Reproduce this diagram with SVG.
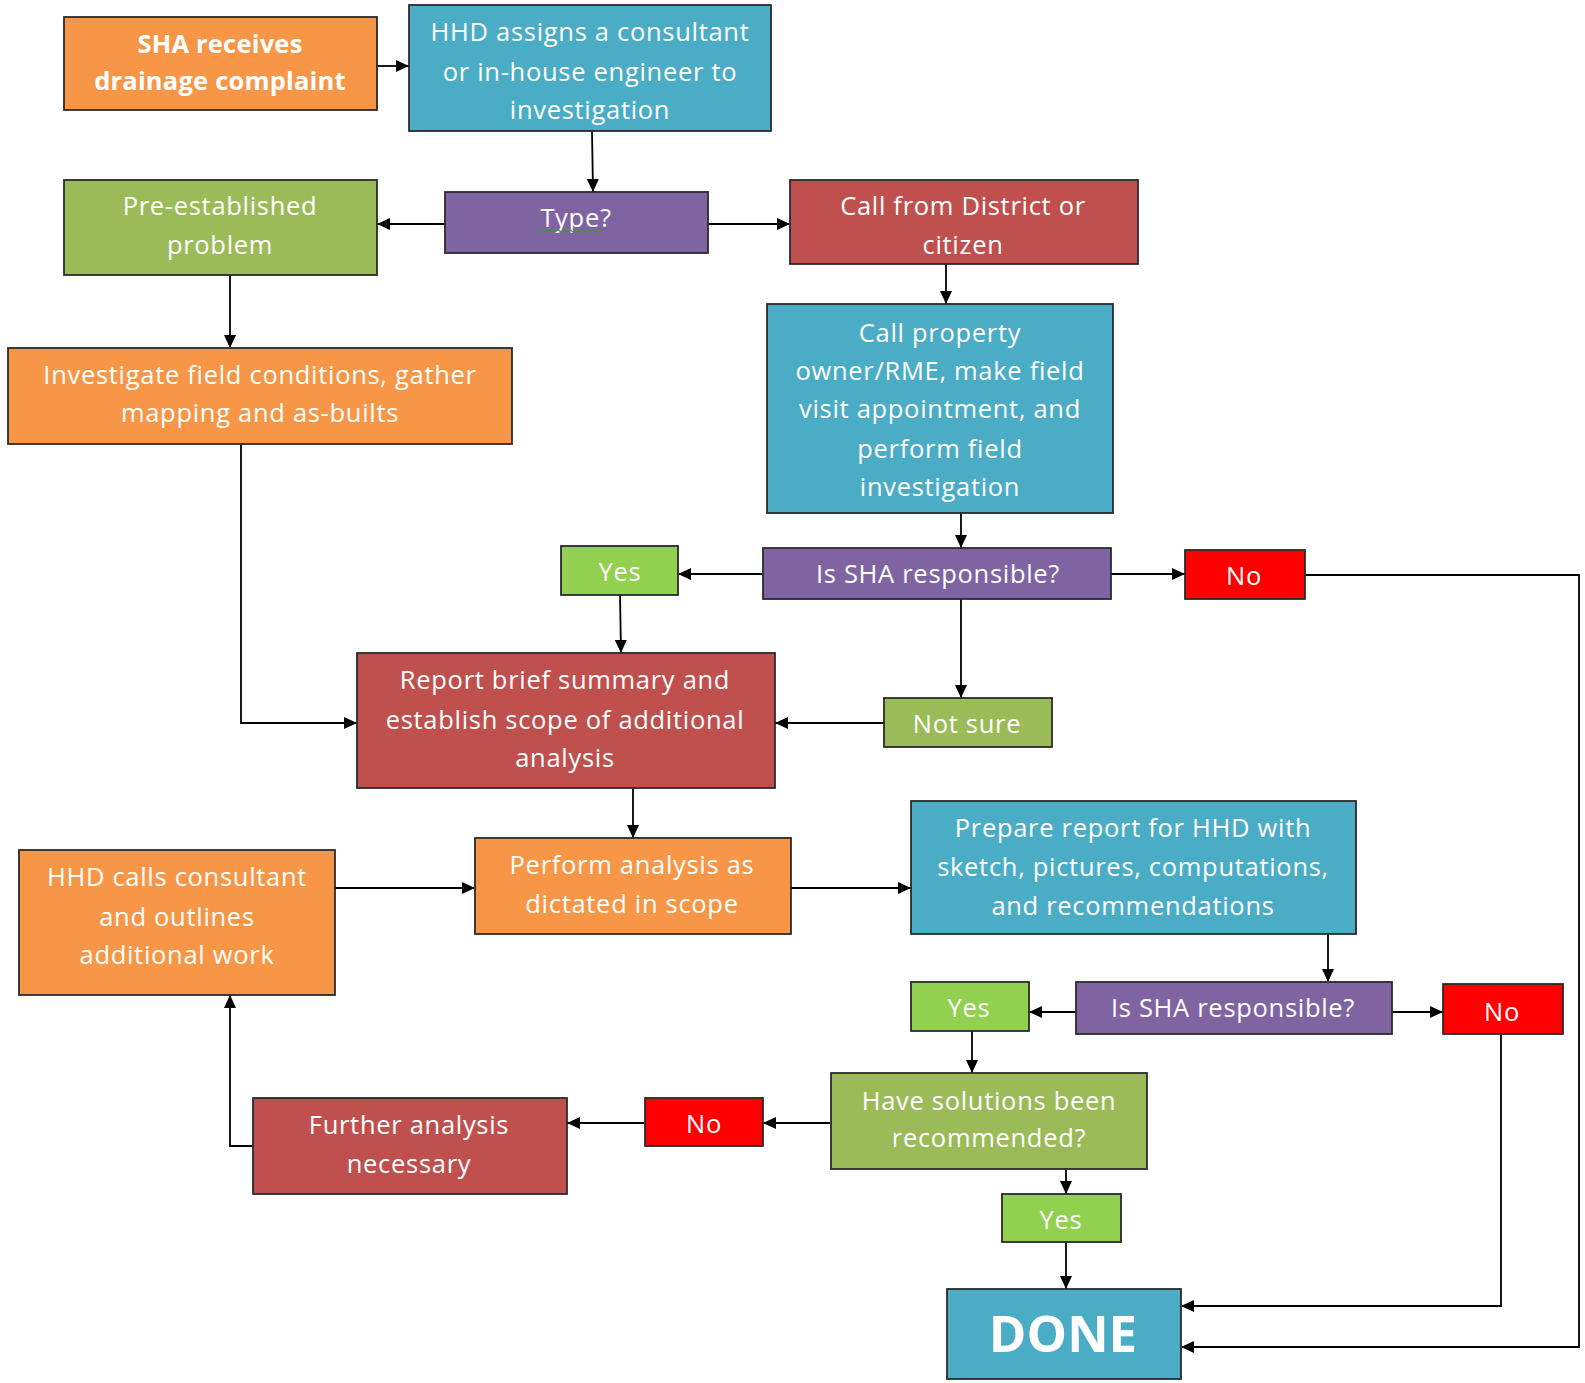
<svg xmlns="http://www.w3.org/2000/svg" width="1585" height="1383" viewBox="0 0 1585 1383">
<style>
.box{stroke:#2b2b2b;stroke-width:1.8}
.or{fill:#F79646}.bl{fill:#4BACC6}.pu{fill:#8064A2}.gr{fill:#9BBB59}.rd{fill:#C0504D}.lg{fill:#92D050}.br{fill:#FF0000}
text{font-family:"Open Sans","Noto Sans","DejaVu Sans",sans-serif;font-size:25.5px;letter-spacing:0.7px;fill:#FFFFFF;text-anchor:middle;dominant-baseline:central}
.b{font-weight:bold;letter-spacing:0.2px}
.done{font-size:51px;font-weight:bold;letter-spacing:0}
.c{fill:none;stroke:#000;stroke-width:1.8}
</style>
<defs>
<marker id="ah" markerUnits="userSpaceOnUse" markerWidth="14" markerHeight="14" refX="13" refY="7" orient="auto">
<path d="M0,1 L13,7 L0,13 Z" fill="#000"/>
</marker>
</defs>
<rect width="1585" height="1383" fill="#FFFFFF"/>
<g id="connectors">
<path class="c" marker-end="url(#ah)" d="M377,66 L409,66"/>
<path class="c" marker-end="url(#ah)" d="M592,131 L593,192"/>
<path class="c" marker-end="url(#ah)" d="M445,224 L377,224"/>
<path class="c" marker-end="url(#ah)" d="M708,224 L790,224"/>
<path class="c" marker-end="url(#ah)" d="M946,264 L946,304"/>
<path class="c" marker-end="url(#ah)" d="M230,275 L230,348"/>
<path class="c" marker-end="url(#ah)" d="M241,444 L241,723 L357,723"/>
<path class="c" marker-end="url(#ah)" d="M961,513 L961,548"/>
<path class="c" marker-end="url(#ah)" d="M763,574 L678,574"/>
<path class="c" marker-end="url(#ah)" d="M1111,574 L1185,574"/>
<path class="c" marker-end="url(#ah)" d="M961,599 L961,698"/>
<path class="c" marker-end="url(#ah)" d="M620,595 L621,653"/>
<path class="c" marker-end="url(#ah)" d="M884,723 L775,723"/>
<path class="c" marker-end="url(#ah)" d="M1305,575 L1579,575 L1579,1347 L1181,1347"/>
<path class="c" marker-end="url(#ah)" d="M633,788 L633,838"/>
<path class="c" marker-end="url(#ah)" d="M335,888 L475,888"/>
<path class="c" marker-end="url(#ah)" d="M791,888 L911,888"/>
<path class="c" marker-end="url(#ah)" d="M1328,934 L1328,982"/>
<path class="c" marker-end="url(#ah)" d="M1076,1012 L1029,1012"/>
<path class="c" marker-end="url(#ah)" d="M1392,1012 L1443,1012"/>
<path class="c" marker-end="url(#ah)" d="M972,1031 L972,1073"/>
<path class="c" marker-end="url(#ah)" d="M831,1123 L763,1123"/>
<path class="c" marker-end="url(#ah)" d="M645,1123 L567,1123"/>
<path class="c" marker-end="url(#ah)" d="M253,1146 L230,1146 L230,995"/>
<path class="c" marker-end="url(#ah)" d="M1066,1169 L1066,1194"/>
<path class="c" marker-end="url(#ah)" d="M1066,1242 L1066,1289"/>
<path class="c" marker-end="url(#ah)" d="M1501,1034 L1501,1306 L1181,1306"/>
</g>
<g id="n-sha-receives"><rect class="box or" x="64" y="17" width="313" height="93"/><text class="b" x="220" y="43">SHA receives</text><text class="b" x="220" y="80">drainage complaint</text></g>
<g id="n-hhd-assigns"><rect class="box bl" x="409" y="5" width="362" height="126"/><text x="590" y="31">HHD assigns a consultant</text><text x="590" y="71">or in-house engineer to</text><text x="590" y="109">investigation</text></g>
<g id="n-type"><rect class="box pu" x="445" y="192" width="263" height="61"/><text x="576" y="217">Type?</text><path d="M537,232 l3,-2.5 l3,2.5 l3,-2.5 l3,2.5 l3,-2.5 l3,2.5 l3,-2.5 l3,2.5 l3,-2.5 l3,2.5 l3,-2.5 l3,2.5 l3,-2.5 l3,2.5 l3,-2.5 l3,2.5 l3,-2.5 l3,2.5 l3,-2.5 l3,2.5 l3,-2.5 l3,2.5" fill="none" stroke="#3a9a3a" stroke-width="1.2"/></g>
<g id="n-pre-established"><rect class="box gr" x="64" y="180" width="313" height="95"/><text x="220" y="205">Pre-established</text><text x="220" y="244">problem</text></g>
<g id="n-call-district"><rect class="box rd" x="790" y="180" width="348" height="84"/><text x="963" y="205">Call from District or</text><text x="963" y="244">citizen</text></g>
<g id="n-investigate"><rect class="box or" x="8" y="348" width="504" height="96"/><text x="260" y="374">Investigate field conditions, gather</text><text x="260" y="412">mapping and as-builts</text></g>
<g id="n-call-property"><rect class="box bl" x="767" y="304" width="346" height="209"/><text x="940" y="332">Call property</text><text x="940" y="370">owner/RME, make field</text><text x="940" y="408">visit appointment, and</text><text x="940" y="448">perform field</text><text x="940" y="486">investigation</text></g>
<g id="n-yes1"><rect class="box lg" x="561" y="546" width="117" height="49"/><text x="620" y="571">Yes</text></g>
<g id="n-is-sha1"><rect class="box pu" x="763" y="548" width="348" height="51"/><text x="938" y="573">Is SHA responsible?</text></g>
<g id="n-no1"><rect class="box br" x="1185" y="550" width="120" height="49"/><text x="1244" y="575">No</text></g>
<g id="n-report"><rect class="box rd" x="357" y="653" width="418" height="135"/><text x="565" y="679">Report brief summary and</text><text x="565" y="719">establish scope of additional</text><text x="565" y="757">analysis</text></g>
<g id="n-not-sure"><rect class="box gr" x="884" y="698" width="168" height="49"/><text x="967" y="723">Not sure</text></g>
<g id="n-perform"><rect class="box or" x="475" y="838" width="316" height="96"/><text x="632" y="864">Perform analysis as</text><text x="632" y="903">dictated in scope</text></g>
<g id="n-hhd-calls"><rect class="box or" x="19" y="850" width="316" height="145"/><text x="177" y="876">HHD calls consultant</text><text x="177" y="916">and outlines</text><text x="177" y="954">additional work</text></g>
<g id="n-prepare"><rect class="box bl" x="911" y="801" width="445" height="133"/><text x="1133" y="827">Prepare report for HHD with</text><text x="1133" y="866">sketch, pictures, computations,</text><text x="1133" y="905">and recommendations</text></g>
<g id="n-yes2"><rect class="box lg" x="911" y="982" width="118" height="49"/><text x="969" y="1007">Yes</text></g>
<g id="n-is-sha2"><rect class="box pu" x="1076" y="982" width="316" height="52"/><text x="1233" y="1007">Is SHA responsible?</text></g>
<g id="n-no2"><rect class="box br" x="1443" y="984" width="120" height="50"/><text x="1502" y="1011">No</text></g>
<g id="n-have-solutions"><rect class="box gr" x="831" y="1073" width="316" height="96"/><text x="989" y="1100">Have solutions been</text><text x="989" y="1137">recommended?</text></g>
<g id="n-no3"><rect class="box br" x="645" y="1098" width="118" height="48"/><text x="704" y="1123">No</text></g>
<g id="n-further"><rect class="box rd" x="253" y="1098" width="314" height="96"/><text x="409" y="1124">Further analysis</text><text x="409" y="1163">necessary</text></g>
<g id="n-yes3"><rect class="box lg" x="1002" y="1194" width="119" height="48"/><text x="1061" y="1219">Yes</text></g>
<g id="n-done"><rect class="box bl" x="947" y="1289" width="234" height="90"/><text class="done" x="1063" y="1332">DONE</text></g>
</svg>
